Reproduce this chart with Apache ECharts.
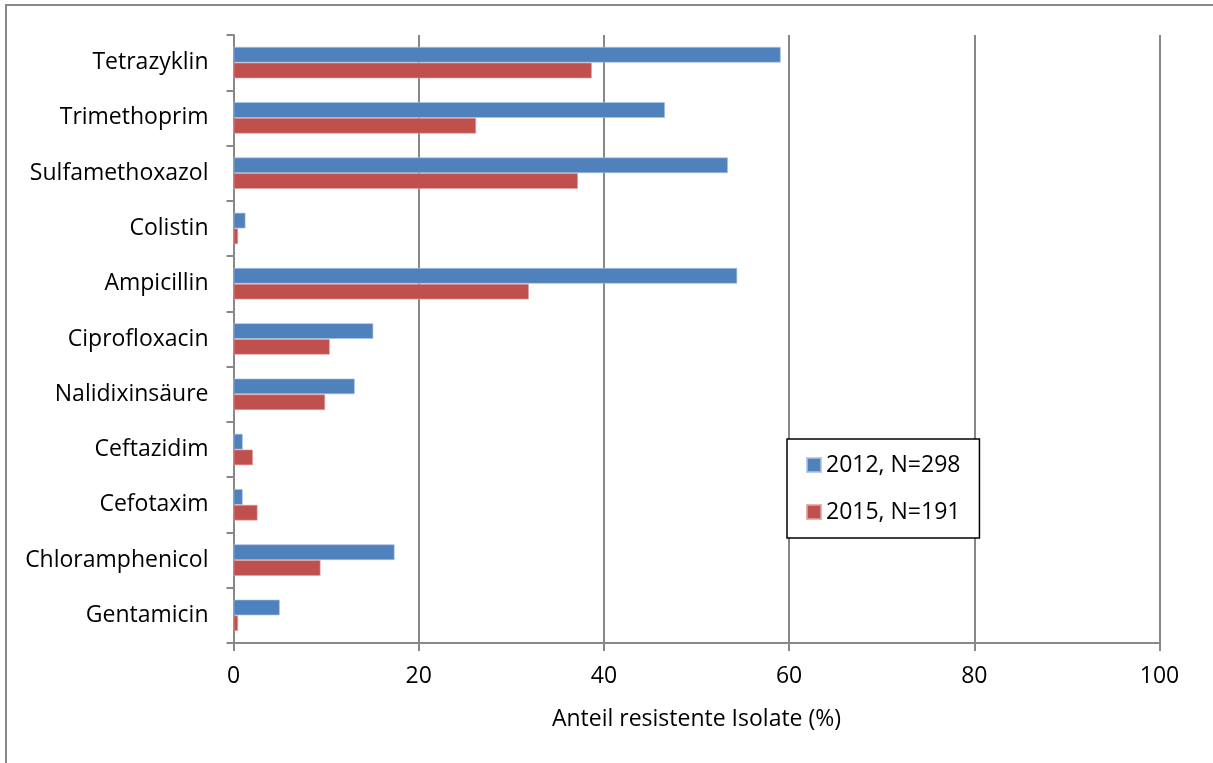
<!DOCTYPE html>
<html>
<head>
<meta charset="utf-8">
<script src="https://cdn.jsdelivr.net/npm/echarts@6/dist/echarts.min.js"></script>
<style>
html,body{margin:0;padding:0;background:#fff;}
#chart{width:1213px;height:763px;}
</style>
</head>
<body>
<div id="chart"></div>
<script>
const categories = ['Tetrazyklin','Trimethoprim','Sulfamethoxazol','Colistin','Ampicillin','Ciprofloxacin','Nalidixinsäure','Ceftazidim','Cefotaxim','Chloramphenicol','Gentamicin'];
const values2012 = [59.1, 46.6, 53.4, 1.3, 54.4, 15.1, 13.1, 1.0, 1.0, 17.4, 5.0];
const values2015 = [38.7, 26.2, 37.2, 0.5, 31.9, 10.4, 9.9, 2.1, 2.6, 9.4, 0.5];
const xTicks = [0, 20, 40, 60, 80, 100];
const seriesNames = ['2012, N=298', '2015, N=191'];
const axisTitle = 'Anteil resistente Isolate (%)';

const FONT = 'Open Sans';
const FS = 23;
const GRAY = '#888888';
const chart = echarts.init(document.getElementById('chart'), null, {renderer:'canvas'});
chart.setOption({
  animation:false,
  backgroundColor:'#ffffff',
  textStyle:{fontFamily:FONT},
  graphic:[{type:'rect',shape:{x:6,y:5,width:1230,height:800},style:{fill:'none',stroke:GRAY,lineWidth:2},silent:true,z:-1}],
  grid:{left:233.5,right:53.5,top:35,bottom:120,containLabel:false},
  legend:{
    orient:'vertical',left:787,top:439,
    data:seriesNames,
    backgroundColor:'#fff',
    borderColor:'#000',borderWidth:1.5,
    padding:[14,19,14,19],
    itemWidth:14,itemHeight:14,itemGap:23,
    icon:'rect',
    textStyle:{fontFamily:FONT,fontSize:FS,color:'#000',lineHeight:24},
    z:10
  },
  xAxis:{
    type:'value',min:0,max:100,interval:20,
    name:axisTitle,nameLocation:'middle',nameGap:65,
    nameTextStyle:{fontFamily:FONT,fontSize:FS,color:'#000'},
    axisLine:{show:true,lineStyle:{color:GRAY,width:2}},
    axisTick:{show:true,length:8,lineStyle:{color:GRAY,width:2}},
    axisLabel:{fontFamily:FONT,fontSize:FS,color:'#000',margin:22,
      formatter:function(v){return xTicks.indexOf(v)>=0?String(v):'';}},
    splitLine:{show:true,lineStyle:{color:GRAY,width:2}}
  },
  yAxis:{
    type:'category',data:categories,inverse:true,
    axisLine:{show:true,lineStyle:{color:GRAY,width:2}},
    axisTick:{show:true,length:7,lineStyle:{color:GRAY,width:2}},
    axisLabel:{fontFamily:FONT,fontSize:FS,color:'#000',margin:25,padding:[4,0,0,0]},
    splitLine:{show:false}
  },
  series:[
    {name:seriesNames[0],type:'bar',data:values2012,barGap:'0%',barCategoryGap:'43%',
     itemStyle:{color:'#4F81BD',borderColor:'rgba(170,195,225,0.8)',borderWidth:0.8}},
    {name:seriesNames[1],type:'bar',data:values2015,barGap:'0%',barCategoryGap:'43%',
     itemStyle:{color:'#C0504D',borderColor:'rgba(225,160,158,0.8)',borderWidth:0.8}}
  ]
});
</script>
</body>
</html>
